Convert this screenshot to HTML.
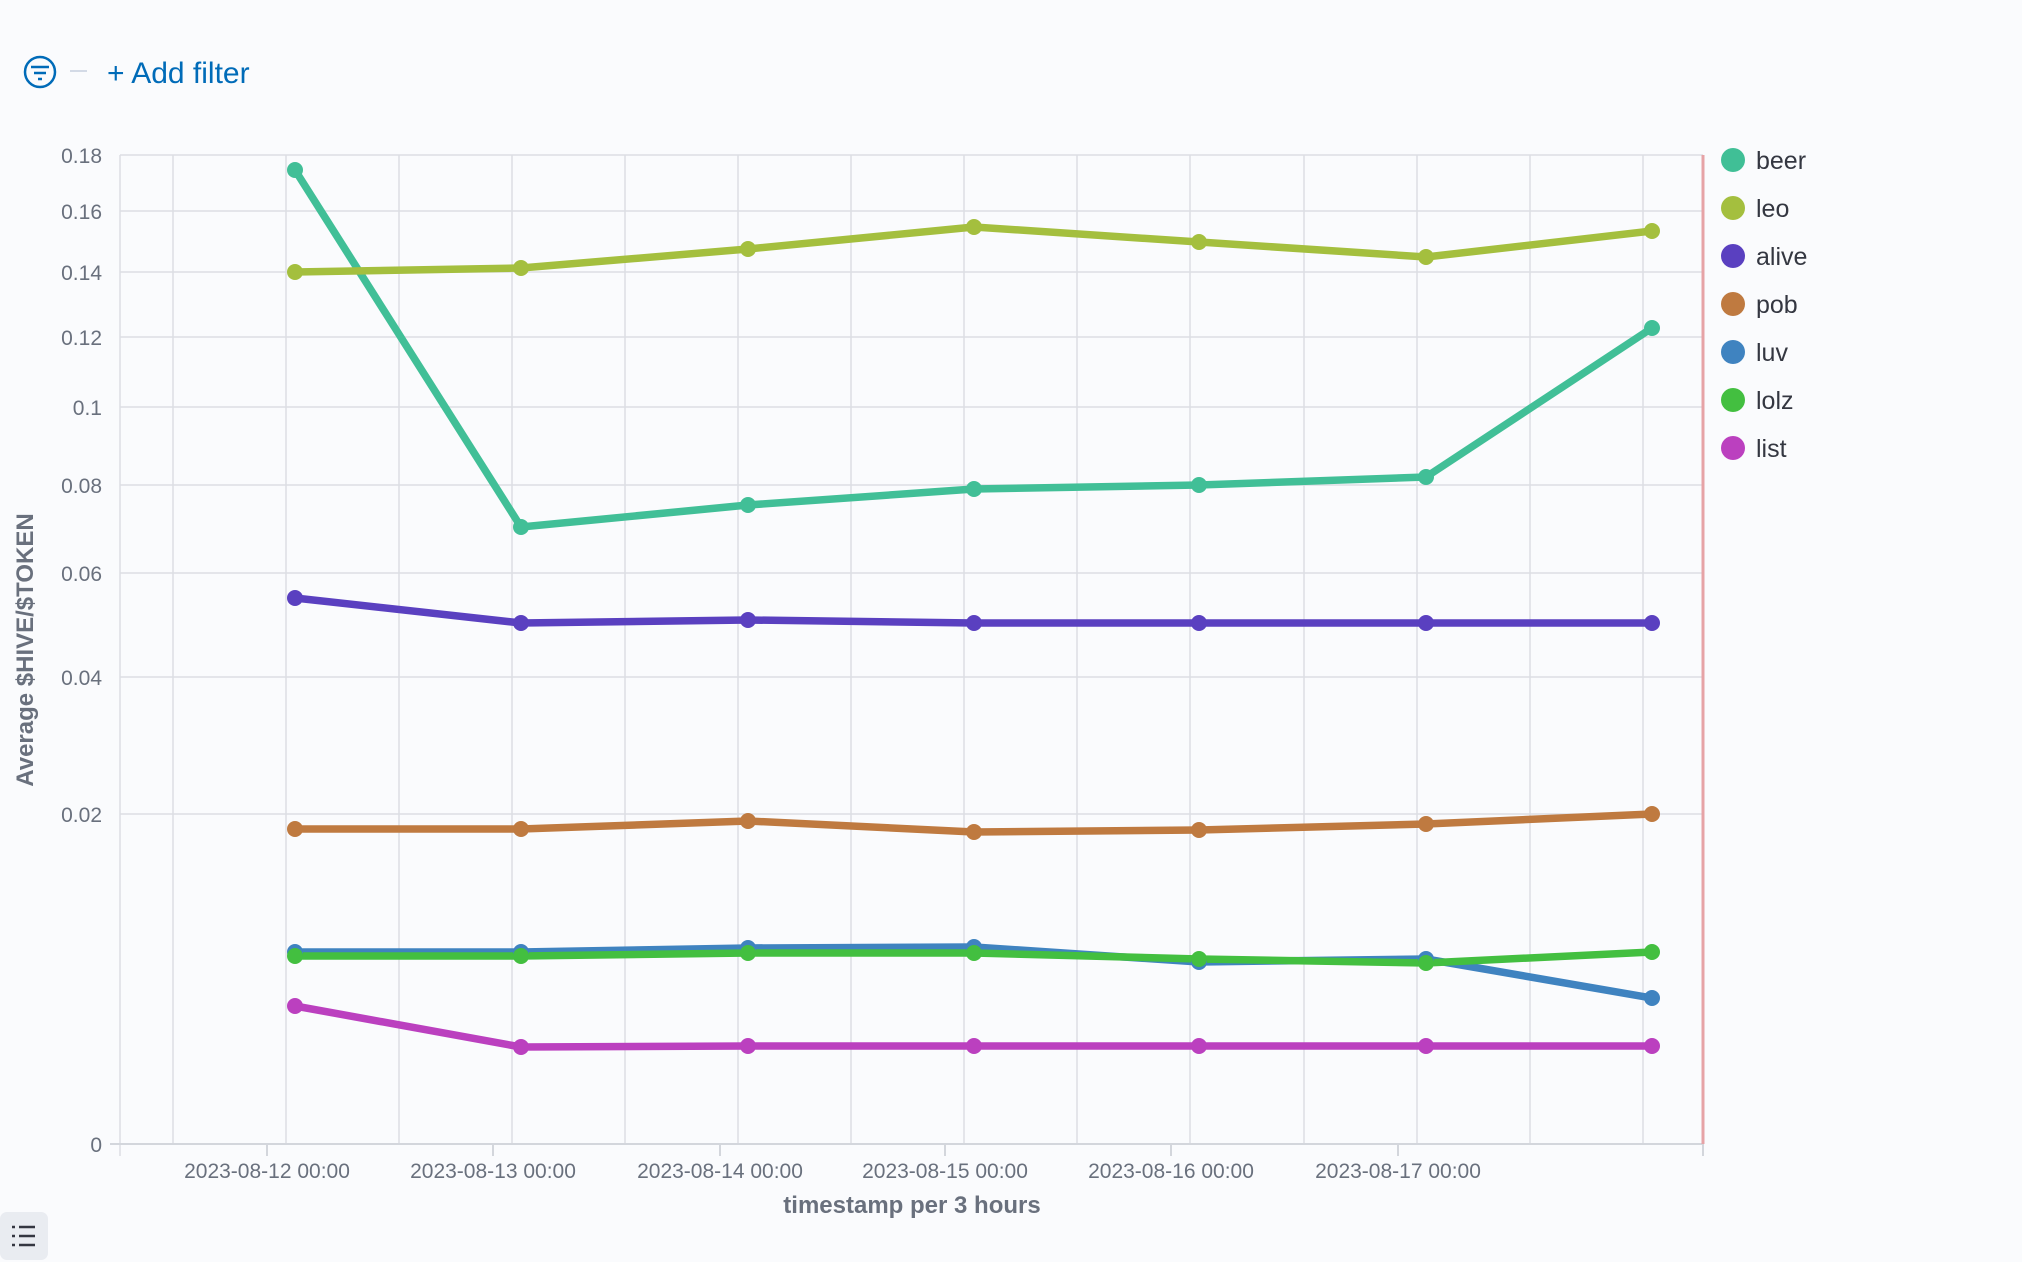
<!DOCTYPE html>
<html><head><meta charset="utf-8"><style>
html,body{margin:0;padding:0;background:#fafbfd;}
svg{display:block;font-family:"Liberation Sans",sans-serif;}
</style></head><body>
<svg width="2022" height="1262" viewBox="0 0 2022 1262" xmlns="http://www.w3.org/2000/svg">
<rect width="2022" height="1262" fill="#fafbfd"/>
<!-- filter bar -->
<circle cx="40" cy="72" r="15" fill="none" stroke="#006bb8" stroke-width="2.5"/>
<line x1="31" y1="67" x2="49" y2="67" stroke="#006bb8" stroke-width="2.5"/>
<line x1="34" y1="73" x2="46" y2="73" stroke="#006bb8" stroke-width="2.5"/>
<line x1="38" y1="79" x2="42" y2="79" stroke="#006bb8" stroke-width="2.5"/>
<line x1="70" y1="71" x2="87" y2="71" stroke="#d3dae6" stroke-width="2"/>
<text x="107" y="83" font-size="30" fill="#006bb8">+ Add filter</text>
<!-- grid -->
<g stroke="#dcdee3" stroke-width="1.5">
<line x1="120" y1="155" x2="1703" y2="155"/>
<line x1="120" y1="211" x2="1703" y2="211"/>
<line x1="120" y1="272" x2="1703" y2="272"/>
<line x1="120" y1="337" x2="1703" y2="337"/>
<line x1="120" y1="407" x2="1703" y2="407"/>
<line x1="120" y1="485" x2="1703" y2="485"/>
<line x1="120" y1="573" x2="1703" y2="573"/>
<line x1="120" y1="677" x2="1703" y2="677"/>
<line x1="120" y1="814" x2="1703" y2="814"/>
<line x1="173" y1="155" x2="173" y2="1144"/>
<line x1="286" y1="155" x2="286" y2="1144"/>
<line x1="399" y1="155" x2="399" y2="1144"/>
<line x1="512" y1="155" x2="512" y2="1144"/>
<line x1="625" y1="155" x2="625" y2="1144"/>
<line x1="738" y1="155" x2="738" y2="1144"/>
<line x1="851" y1="155" x2="851" y2="1144"/>
<line x1="964" y1="155" x2="964" y2="1144"/>
<line x1="1077" y1="155" x2="1077" y2="1144"/>
<line x1="1190" y1="155" x2="1190" y2="1144"/>
<line x1="1304" y1="155" x2="1304" y2="1144"/>
<line x1="1417" y1="155" x2="1417" y2="1144"/>
<line x1="1530" y1="155" x2="1530" y2="1144"/>
<line x1="1643" y1="155" x2="1643" y2="1144"/>
<line x1="120" y1="155" x2="120" y2="1156"/>
</g>
<g stroke="#d3d6dc" stroke-width="2">
<line x1="110" y1="1144" x2="1703" y2="1144"/>
<line x1="267" y1="1144" x2="267" y2="1156"/>
<line x1="493" y1="1144" x2="493" y2="1156"/>
<line x1="720" y1="1144" x2="720" y2="1156"/>
<line x1="945" y1="1144" x2="945" y2="1156"/>
<line x1="1171" y1="1144" x2="1171" y2="1156"/>
<line x1="1398" y1="1144" x2="1398" y2="1156"/>
<line x1="1703" y1="1144" x2="1703" y2="1156"/>
</g>
<line x1="1703" y1="155" x2="1703" y2="1144" stroke="#e6a3a6" stroke-width="3"/>
<!-- y labels -->
<g font-size="21" fill="#69707d" text-anchor="end">
<text x="102" y="163">0.18</text>
<text x="102" y="219">0.16</text>
<text x="102" y="280">0.14</text>
<text x="102" y="345">0.12</text>
<text x="102" y="415">0.1</text>
<text x="102" y="493">0.08</text>
<text x="102" y="581">0.06</text>
<text x="102" y="685">0.04</text>
<text x="102" y="822">0.02</text>
<text x="102" y="1152">0</text>
</g>
<text transform="translate(33,650) rotate(-90)" font-size="24" font-weight="bold" fill="#69707d" text-anchor="middle">Average $HIVE/$TOKEN</text>
<g font-size="21" fill="#69707d" text-anchor="middle">
<text x="267" y="1178">2023-08-12 00:00</text>
<text x="493" y="1178">2023-08-13 00:00</text>
<text x="720" y="1178">2023-08-14 00:00</text>
<text x="945" y="1178">2023-08-15 00:00</text>
<text x="1171" y="1178">2023-08-16 00:00</text>
<text x="1398" y="1178">2023-08-17 00:00</text>
</g>
<text x="912" y="1213" font-size="24" font-weight="bold" fill="#69707d" text-anchor="middle">timestamp per 3 hours</text>
<!-- series -->
<g fill="none" stroke-width="7.5" stroke-linejoin="round">
<polyline stroke="#41bf97" points="295,170 521,527 748,505 974,489 1199,485 1426,477 1652,328"/>
<polyline stroke="#a4bf3e" points="295,272 521,268 748,249 974,227 1199,242 1426,257 1652,231"/>
<polyline stroke="#5a40c0" points="295,598 521,623 748,620 974,623 1199,623 1426,623 1652,623"/>
<polyline stroke="#bf7a40" points="295,829 521,829 748,821 974,832 1199,830 1426,824 1652,814"/>
<polyline stroke="#3f83c0" points="295,952 521,952 748,948 974,947 1199,962 1426,959 1652,998"/>
<polyline stroke="#43bf40" points="295,956 521,956 748,953 974,953 1199,959 1426,963 1652,952"/>
<polyline stroke="#bb40bf" points="295,1006 521,1047 748,1046 974,1046 1199,1046 1426,1046 1652,1046"/>
</g>
<g>
<g fill="#41bf97"><circle cx="295" cy="170" r="8"/><circle cx="521" cy="527" r="8"/><circle cx="748" cy="505" r="8"/><circle cx="974" cy="489" r="8"/><circle cx="1199" cy="485" r="8"/><circle cx="1426" cy="477" r="8"/><circle cx="1652" cy="328" r="8"/></g>
<g fill="#a4bf3e"><circle cx="295" cy="272" r="8"/><circle cx="521" cy="268" r="8"/><circle cx="748" cy="249" r="8"/><circle cx="974" cy="227" r="8"/><circle cx="1199" cy="242" r="8"/><circle cx="1426" cy="257" r="8"/><circle cx="1652" cy="231" r="8"/></g>
<g fill="#5a40c0"><circle cx="295" cy="598" r="8"/><circle cx="521" cy="623" r="8"/><circle cx="748" cy="620" r="8"/><circle cx="974" cy="623" r="8"/><circle cx="1199" cy="623" r="8"/><circle cx="1426" cy="623" r="8"/><circle cx="1652" cy="623" r="8"/></g>
<g fill="#bf7a40"><circle cx="295" cy="829" r="8"/><circle cx="521" cy="829" r="8"/><circle cx="748" cy="821" r="8"/><circle cx="974" cy="832" r="8"/><circle cx="1199" cy="830" r="8"/><circle cx="1426" cy="824" r="8"/><circle cx="1652" cy="814" r="8"/></g>
<g fill="#3f83c0"><circle cx="295" cy="952" r="8"/><circle cx="521" cy="952" r="8"/><circle cx="748" cy="948" r="8"/><circle cx="974" cy="947" r="8"/><circle cx="1199" cy="962" r="8"/><circle cx="1426" cy="959" r="8"/><circle cx="1652" cy="998" r="8"/></g>
<g fill="#43bf40"><circle cx="295" cy="956" r="8"/><circle cx="521" cy="956" r="8"/><circle cx="748" cy="953" r="8"/><circle cx="974" cy="953" r="8"/><circle cx="1199" cy="959" r="8"/><circle cx="1426" cy="963" r="8"/><circle cx="1652" cy="952" r="8"/></g>
<g fill="#bb40bf"><circle cx="295" cy="1006" r="8"/><circle cx="521" cy="1047" r="8"/><circle cx="748" cy="1046" r="8"/><circle cx="974" cy="1046" r="8"/><circle cx="1199" cy="1046" r="8"/><circle cx="1426" cy="1046" r="8"/><circle cx="1652" cy="1046" r="8"/></g>
</g>
<!-- legend -->
<g font-size="25" fill="#343741">
<circle cx="1733" cy="160" r="12" fill="#40bf96"/><text x="1756" y="169">beer</text>
<circle cx="1733" cy="208" r="12" fill="#a4bf3e"/><text x="1756" y="217">leo</text>
<circle cx="1733" cy="256" r="12" fill="#5a40c0"/><text x="1756" y="265">alive</text>
<circle cx="1733" cy="304" r="12" fill="#bf7a40"/><text x="1756" y="313">pob</text>
<circle cx="1733" cy="352" r="12" fill="#3f83c0"/><text x="1756" y="361">luv</text>
<circle cx="1733" cy="400" r="12" fill="#43bf40"/><text x="1756" y="409">lolz</text>
<circle cx="1733" cy="448" r="12" fill="#bb40bf"/><text x="1756" y="457">list</text>
</g>
<!-- bottom-left button -->
<rect x="0" y="1212" width="48" height="48" rx="7" fill="#e9ecf1"/>
<g stroke="#343741" stroke-width="2.5">
<line x1="12" y1="1227" x2="15" y2="1227"/><line x1="19" y1="1227" x2="35" y2="1227"/>
<line x1="12" y1="1236" x2="15" y2="1236"/><line x1="19" y1="1236" x2="35" y2="1236"/>
<line x1="12" y1="1245" x2="15" y2="1245"/><line x1="19" y1="1245" x2="35" y2="1245"/>
</g>
</svg>
</body></html>
